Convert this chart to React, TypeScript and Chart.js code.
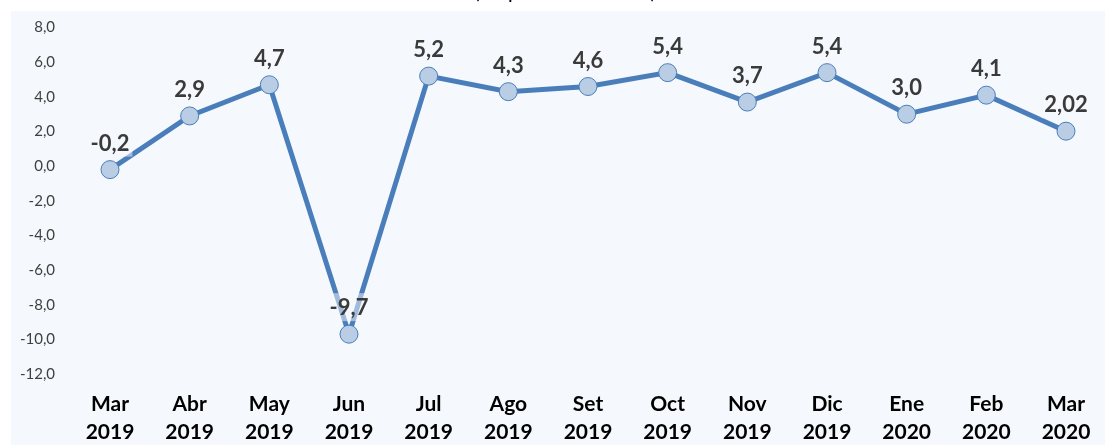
import React, { useEffect, useRef } from "react";
import { Chart, registerables } from "chart.js";

Chart.register(...registerables);

const months = ["Mar", "Abr", "May", "Jun", "Jul", "Ago", "Set", "Oct", "Nov", "Dic", "Ene", "Feb", "Mar"];
const years = ["2019", "2019", "2019", "2019", "2019", "2019", "2019", "2019", "2019", "2019", "2020", "2020", "2020"];
const values = [-0.2, 2.9, 4.7, -9.7, 5.2, 4.3, 4.6, 5.4, 3.7, 5.4, 3.0, 4.1, 2.02];
const valueLabels = ["-0,2", "2,9", "4,7", "-9,7", "5,2", "4,3", "4,6", "5,4", "3,7", "5,4", "3,0", "4,1", "2,02"];
const titleText = "(Var. porcentual interanual)";

const FONT = "Lato, 'Open Sans', sans-serif";

const bgPlugin = {
  id: "bgPlugin",
  beforeDraw(chart: any) {
    const { ctx, width, height } = chart;
    ctx.save();
    ctx.fillStyle = "#ffffff";
    ctx.fillRect(0, 0, width, height);
    ctx.fillStyle = "#f5f8fc";
    ctx.fillRect(11, 11, width - 11, height - 11);
    ctx.fillStyle = "#000000";
    ctx.font = `bold 15px ${FONT}`;
    ctx.textAlign = "center";
    ctx.textBaseline = "alphabetic";
    ctx.fillText(titleText, 565, -1);
    ctx.restore();
  },
};

const labelPlugin = {
  id: "labelPlugin",
  afterDatasetsDraw(chart: any) {
    const { ctx } = chart;
    const meta = chart.getDatasetMeta(0);
    ctx.save();
    ctx.font = `bold 22px ${FONT}`;
    ctx.textAlign = "center";
    ctx.textBaseline = "middle";
    meta.data.forEach((pt: any, i: number) => {
      const txt = valueLabels[i];
      const cx = pt.x;
      const cy = pt.y - 27;
      const w = ctx.measureText(txt).width + 6;
      const h = 28;
      ctx.fillStyle = "rgba(245,248,252,0.5)";
      ctx.fillRect(cx - w / 2, cy - h / 2, w, h);
      ctx.fillStyle = "#3a3a3a";
      ctx.fillText(txt, cx, cy + 1);
    });
    ctx.restore();
  },
};

export default function App() {
  const ref = useRef<HTMLCanvasElement>(null);
  useEffect(() => {
    if (!ref.current) return;
    const chart = new Chart(ref.current, {
      type: "line",
      data: {
        labels: months.map((m, i) => [m, years[i]]),
        datasets: [
          {
            data: values,
            borderColor: "#4a7ebb",
            borderWidth: 5,
            pointRadius: 9,
            pointBackgroundColor: "#b9cde5",
            pointBorderColor: "#4a7ebb",
            pointBorderWidth: 1,
            tension: 0,
            clip: false as any,
          },
        ],
      },
      options: {
        responsive: false,
        animation: false,
        devicePixelRatio: 1,
        layout: { padding: { left: 0, right: 39, top: 27.6, bottom: 0 } },
        plugins: { legend: { display: false }, tooltip: { enabled: false }, title: { display: false } },
        scales: {
          x: {
            type: "category",
            offset: false,
            grid: { display: false, drawTicks: false },
            border: { display: false },
            ticks: {
              autoSkip: false,
              maxRotation: 0,
              minRotation: 0,
              padding: 17,
              color: "#000000",
              font: { family: FONT, size: 21, weight: "bold", lineHeight: 1.3 },
            },
            afterFit(axis: any) {
              axis.height = 71;
              axis.paddingLeft = 0;
              axis.paddingRight = 0;
            },
          },
          y: {
            min: -12,
            max: 8,
            grid: { display: false, drawTicks: false },
            border: { display: false },
            ticks: {
              stepSize: 2,
              padding: 55,
              color: "#404040",
              font: { family: FONT, size: 15 },
              callback: (v: any) => Number(v).toFixed(1).replace(".", ","),
            },
            afterFit(axis: any) {
              axis.width = 110;
              axis.paddingTop = 0;
              axis.paddingBottom = 0;
            },
          },
        },
      },
      plugins: [bgPlugin, labelPlugin],
    });
    return () => chart.destroy();
  }, []);
  return (
    <div style={{ position: "absolute", left: 0, top: 0, width: 1105, height: 445 }}>
      <canvas ref={ref} width={1105} height={445} style={{ display: "block", width: 1105, height: 445 }} />
    </div>
  );
}
